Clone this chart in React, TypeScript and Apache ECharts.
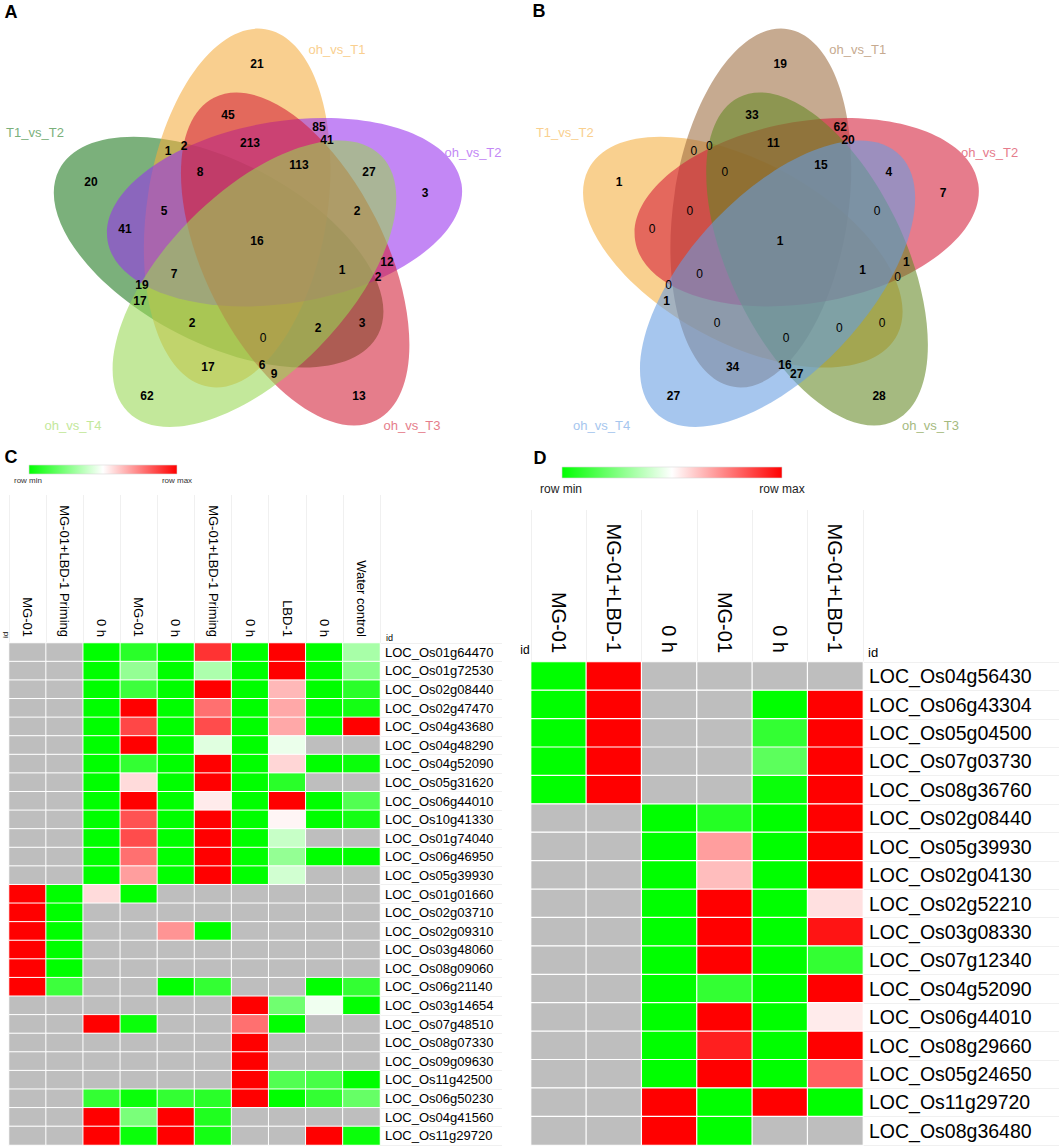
import React, { useEffect, useRef } from 'react';
import * as echarts from 'echarts';

const FONT = '"Liberation Sans", Arial, Helvetica, sans-serif';

// ---------- Venn data ----------
// set order: top, right, lower-right, lower-left, left
const vennSetsA = ['oh_vs_T1', 'oh_vs_T2', 'oh_vs_T3', 'oh_vs_T4', 'T1_vs_T2'];
const vennSetsB = ['oh_vs_T1', 'oh_vs_T2', 'oh_vs_T3', 'oh_vs_T4', 'T1_vs_T2'];
const vennCountsA = [21, 45, 85, 41, 1, 2, 213, 113, 27, 8, 20, 3, 5, 2, 41, 16, 12, 1, 7, 2, 19, 17, 2, 2, 3, 0, 17, 6, 9, 62, 13];
const vennCountsB = [19, 33, 62, 20, 0, 0, 11, 15, 4, 0, 1, 7, 0, 0, 0, 1, 1, 1, 0, 0, 0, 1, 0, 0, 0, 0, 34, 16, 27, 27, 28];

// ---------- Heatmap C data ----------
const heatCCols = ['MG-01', 'MG-01+LBD-1 Priming', '0 h', 'MG-01', '0 h', 'MG-01+LBD-1 Priming', '0 h', 'LBD-1', '0 h', 'Water control'];
const heatCRows = [
  'LOC_Os01g64470', 'LOC_Os01g72530', 'LOC_Os02g08440', 'LOC_Os02g47470', 'LOC_Os04g43680',
  'LOC_Os04g48290', 'LOC_Os04g52090', 'LOC_Os05g31620', 'LOC_Os06g44010', 'LOC_Os10g41330',
  'LOC_Os01g74040', 'LOC_Os06g46950', 'LOC_Os05g39930', 'LOC_Os01g01660', 'LOC_Os02g03710',
  'LOC_Os02g09310', 'LOC_Os03g48060', 'LOC_Os08g09060', 'LOC_Os06g21140', 'LOC_Os03g14654',
  'LOC_Os07g48510', 'LOC_Os08g07330', 'LOC_Os09g09630', 'LOC_Os11g42500', 'LOC_Os06g50230',
  'LOC_Os04g41560', 'LOC_Os11g29720',
];
const n = null;
const heatCValues: (number | null)[][] = [
  [n, n, 0, 0.08, 0, 0.9, 0, 1, 0, 0.33],
  [n, n, 0, 0.29, 0, 0.34, 0, 1, 0, 0.27],
  [n, n, 0, 0.12, 0, 1, 0, 0.64, 0, 0.08],
  [n, n, 0, 1, 0, 0.78, 0, 0.67, 0, 0.04],
  [n, n, 0, 0.86, 0, 0.85, 0, 0.67, 0, 1],
  [n, n, 0, 1, 0, 0.44, 0, 0.46, n, n],
  [n, n, 0, 0.1, 0, 1, 0, 0.58, 0, 0.02],
  [n, n, 0, 0.57, 0, 1, 0, 0.08, n, n],
  [n, n, 0, 1, 0, 0.54, 0, 1, 0, 0.16],
  [n, n, 0, 0.84, 0, 1, 0, 0.52, 0, 0.04],
  [n, n, 0, 0.85, 0, 1, 0, 0.39, n, n],
  [n, n, 0, 0.78, 0, 1, 0, 0.29, 0, 0],
  [n, n, 0, 0.69, 0, 1, 0, 0.41, n, n],
  [1, 0, 0.57, 0, n, n, n, n, n, n],
  [1, 0, n, n, n, n, n, n, n, n],
  [1, 0, n, n, 0.71, 0, n, n, n, n],
  [1, 0, n, n, n, n, n, n, n, n],
  [1, 0, n, n, n, n, n, n, n, n],
  [1, 0.12, n, n, 0, 0.1, n, n, 0, 0.1],
  [n, n, n, n, n, n, 1, 0.22, 0.47, 0],
  [n, n, 1, 0.02, n, n, 0.78, 0, n, n],
  [n, n, n, n, n, n, 1, n, n, n],
  [n, n, n, n, n, n, 1, n, n, n],
  [n, n, n, n, n, n, 1, 0.16, 0.14, 0],
  [n, n, 0.1, 0.02, 0.1, 0.08, 1, 0, 0.1, 0.2],
  [n, n, 1, 0.24, 1, 0.06, n, n, n, n],
  [n, n, 1, 0.02, 1, 0.04, n, n, 1, 0.02],
];

// ---------- Heatmap D data ----------
const heatDCols = ['MG-01', 'MG-01+LBD-1', '0 h', 'MG-01', '0 h', 'MG-01+LBD-1'];
const heatDRows = [
  'LOC_Os04g56430', 'LOC_Os06g43304', 'LOC_Os05g04500', 'LOC_Os07g03730', 'LOC_Os08g36760',
  'LOC_Os02g08440', 'LOC_Os05g39930', 'LOC_Os02g04130', 'LOC_Os02g52210', 'LOC_Os03g08330',
  'LOC_Os07g12340', 'LOC_Os04g52090', 'LOC_Os06g44010', 'LOC_Os08g29660', 'LOC_Os05g24650',
  'LOC_Os11g29720', 'LOC_Os08g36480',
];
const heatDValues: (number | null)[][] = [
  [0, 1, n, n, n, n],
  [0, 1, n, n, 0, 1],
  [0, 1, n, n, 0.1, 1],
  [0, 1, n, n, 0.18, 1],
  [0, 1, n, n, 0.02, 1],
  [n, n, 0, 0.07, 0, 1],
  [n, n, 0, 0.69, 0, 1],
  [n, n, 0, 0.63, 0, 1],
  [n, n, 0, 1, 0, 0.56],
  [n, n, 0, 1, 0, 0.96],
  [n, n, 0, 1, 0, 0.1],
  [n, n, 0, 0.1, 0, 1],
  [n, n, 0, 1, 0, 0.54],
  [n, n, 0, 0.94, 0, 1],
  [n, n, 0, 1, 0, 0.81],
  [n, n, 1, 0, 1, 0],
  [n, n, 1, 0, n, n],
];

// ---------- Layout (positions / styles) ----------
const vennLabelOffsets: [number, number][] = [
  [-5, -179], [-34, -128], [57, -116], [65, -103], [-94, -92], [-78, -97], [-12, -100], [37, -78],
  [107, -71], [-62, -71], [-171, -61], [163, -50], [-98, -32], [95, -32], [-137, -14], [-5, -2],
  [125, 19], [80, 27], [-88, 31], [116, 34], [-120, 42], [-122, 58], [-70, 80], [56, 85],
  [100, 80], [1, 95], [-54, 124], [0, 122], [12, 131], [-115, 153], [97, 153],
];
const vennSetLabelOffsets: [number, number][] = [[75, -194], [211, -91], [150, 182], [-189, 182], [-227, -111]];
const ELL = { a: 181, b: 91, ox: -21, oy: -35, tilt: 9 };
const ALPHA = 0.58;
const vennFillA = [[245, 172, 62], [152, 48, 238], [210, 31, 55], [152, 215, 83], [27, 119, 27]];
const vennTextA = ['#f9cf8f', '#c387f5', '#e57d8b', '#c3e89b', '#7bb07b'];
const vennFillB = [[157, 108, 64], [212, 29, 57], [100, 136, 36], [102, 157, 226], [245, 174, 62]];
const vennTextB = ['#c6aa90', '#e67c8c', '#a5ba80', '#a6c6ee', '#f9d08f'];

interface VennLayout { ex: number; ey: number; esx: number; lx: number; ly: number; lsx: number }

function vennGraphics(L: VennLayout, fills: number[][], textColors: string[], sets: string[], counts: number[]) {
  const order = [4, 0, 1, 2, 3];
  const ellipses = order.map((k) => {
    const ang = (k * 72 * Math.PI) / 180;
    const c = Math.cos(ang);
    const s = Math.sin(ang);
    const ex = ELL.ox * c - ELL.oy * s;
    const ey = ELL.ox * s + ELL.oy * c;
    const f = fills[k];
    return {
      type: 'ellipse',
      x: ex,
      y: ey,
      rotation: (-(k * 72 + ELL.tilt) * Math.PI) / 180,
      shape: { cx: 0, cy: 0, rx: ELL.b, ry: ELL.a },
      style: { fill: `rgba(${f[0]},${f[1]},${f[2]},${ALPHA})` },
      silent: true,
    };
  });
  const els: any[] = [{ type: 'group', x: L.ex, y: L.ey, scaleX: L.esx, children: ellipses }];
  counts.forEach((v, i) => {
    const [dx, dy] = vennLabelOffsets[i];
    els.push({
      type: 'text',
      x: L.lx + dx * L.lsx,
      y: L.ly + dy,
      silent: true,
      style: {
        text: String(v),
        fill: '#000',
        fontSize: 12,
        fontWeight: v === 0 ? 'normal' : 'bold',
        fontFamily: FONT,
        align: 'center',
        verticalAlign: 'middle',
        textAlign: 'center',
        textVerticalAlign: 'middle',
      },
    });
  });
  sets.forEach((name, k) => {
    const [dx, dy] = vennSetLabelOffsets[k];
    els.push({
      type: 'text',
      x: L.lx + dx * L.lsx,
      y: L.ly + dy,
      silent: true,
      style: {
        text: name,
        fill: textColors[k],
        fontSize: 13,
        fontFamily: FONT,
        align: 'center',
        verticalAlign: 'middle',
        textAlign: 'center',
        textVerticalAlign: 'middle',
      },
    });
  });
  return els;
}

function txt(text: string, x: number, y: number, size: number, opts: any = {}) {
  return {
    type: 'text',
    x,
    y,
    silent: true,
    rotation: opts.rotation || 0,
    style: {
      text,
      fill: opts.color || '#000',
      fontSize: size,
      fontWeight: opts.bold ? 'bold' : 'normal',
      fontFamily: FONT,
      align: opts.align || 'center',
      verticalAlign: 'middle',
      textAlign: opts.align || 'center',
      textVerticalAlign: 'middle',
    },
  };
}

function gradientBar(x: number, y: number, w: number, h: number) {
  return {
    type: 'rect',
    silent: true,
    shape: { x, y, width: w, height: h },
    style: {
      fill: {
        type: 'linear', x: 0, y: 0, x2: 1, y2: 0,
        colorStops: [
          { offset: 0, color: '#00ff00' },
          { offset: 0.5, color: '#ffffff' },
          { offset: 1, color: '#ff0000' },
        ],
      },
      stroke: '#d8d8d8',
      lineWidth: 0.6,
    },
  };
}

// missing values -> -1 (shown grey via visualMap outOfRange)
function toHeat(values: (number | null)[][]) {
  const out: number[][] = [];
  values.forEach((row, r) => row.forEach((v, c) => out.push([c, r, v === null ? -1 : v])));
  return out;
}

export default function App() {
  const ref = useRef<HTMLDivElement>(null);
  useEffect(() => {
    if (!ref.current) return;
    const chart = echarts.init(ref.current, undefined, { renderer: 'svg' });

    const graphics: any[] = [
      ...vennGraphics({ ex: 258, ey: 243, esx: 0.99, lx: 262, ly: 243, lsx: 1 }, vennFillA, vennTextA, vennSetsA, vennCountsA),
      ...vennGraphics({ ex: 781, ey: 243, esx: 0.96, lx: 785, ly: 243, lsx: 0.97 }, vennFillB, vennTextB, vennSetsB, vennCountsB),
      txt('A', 11, 12, 18, { bold: true }),
      txt('B', 539, 11, 18, { bold: true }),
      txt('C', 11, 457, 18, { bold: true }),
      txt('D', 540, 458, 18, { bold: true }),
      gradientBar(29, 465, 148, 9),
      txt('row min', 28, 480, 8, { color: '#333' }),
      txt('row max', 177, 480, 8, { color: '#333' }),
      gradientBar(562, 467, 220, 11),
      txt('row min', 561, 489, 12, { color: '#222' }),
      txt('row max', 782, 489, 12, { color: '#222' }),
      txt('id', 5, 635, 8, { rotation: Math.PI / 2 }),
      txt('id', 386, 638, 9, { align: 'left' }),
      txt('id', 525, 650, 12),
      txt('id', 868, 652, 13, { align: 'left' }),
    ];

    const axisCommon = {
      type: 'category',
      axisLine: { show: false },
      splitLine: { show: false },
    };

    const vm = (i: number) => ({
      type: 'continuous',
      show: false,
      seriesIndex: i,
      min: -1,
      max: 1,
      range: [0, 1],
      inRange: { color: ['#00ff00', '#00ff00', '#00ff00', '#ffffff', '#ff0000'] },
      outOfRange: { color: '#bebebe' },
    });

    const option: any = {
      animation: false,
      grid: [
        { left: 9, top: 643, width: 371, height: 502 },
        { left: 531, top: 662, width: 332, height: 483 },
      ],
      xAxis: [
        {
          ...axisCommon, gridIndex: 0, position: 'top', data: heatCCols,
          axisTick: { show: true, interval: 0, length: 148, lineStyle: { color: '#f0f0f0' } },
          axisLabel: { interval: 0, rotate: 90, margin: 6, fontSize: 13, color: '#000', fontFamily: FONT },
        },
        {
          ...axisCommon, gridIndex: 1, position: 'top', data: heatDCols,
          axisTick: { show: true, interval: 0, length: 152, lineStyle: { color: '#f0f0f0' } },
          axisLabel: { interval: 0, rotate: 90, margin: 9, fontSize: 20, color: '#000', fontFamily: FONT },
        },
      ],
      yAxis: [
        {
          ...axisCommon, gridIndex: 0, position: 'right', inverse: true, data: heatCRows,
          axisTick: { show: true, interval: 0, length: 122, lineStyle: { color: '#f0f0f0' } },
          axisLabel: { interval: 0, margin: 5, fontSize: 13, color: '#000', fontFamily: FONT },
        },
        {
          ...axisCommon, gridIndex: 1, position: 'right', inverse: true, data: heatDRows,
          axisTick: { show: true, interval: 0, length: 196, lineStyle: { color: '#f0f0f0' } },
          axisLabel: { interval: 0, margin: 6, fontSize: 19.5, color: '#000', fontFamily: FONT },
        },
      ],
      visualMap: [vm(0), vm(1)],
      series: [
        {
          type: 'heatmap', xAxisIndex: 0, yAxisIndex: 0, data: toHeat(heatCValues),
          itemStyle: { borderColor: '#fff', borderWidth: 1 }, emphasis: { disabled: true }, silent: true,
        },
        {
          type: 'heatmap', xAxisIndex: 1, yAxisIndex: 1, data: toHeat(heatDValues),
          itemStyle: { borderColor: '#fff', borderWidth: 1.2 }, emphasis: { disabled: true }, silent: true,
        },
      ],
      graphic: { elements: graphics },
    };
    chart.setOption(option);
    return () => chart.dispose();
  }, []);
  return <div ref={ref} style={{ position: 'absolute', left: 0, top: 0, width: 1059, height: 1147 }} />;
}
